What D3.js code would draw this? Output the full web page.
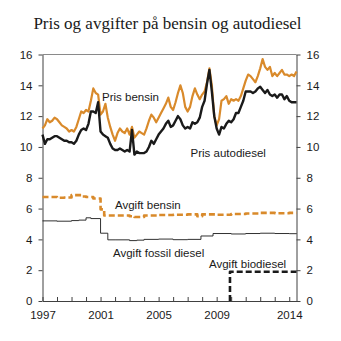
<!DOCTYPE html>
<html><head><meta charset="utf-8">
<script src="https://cdn.jsdelivr.net/npm/d3@7"></script>
<style>body{margin:0;background:#fff}svg{display:block}</style>
</head><body>
<script>
// months since Jan 1997, bi-monthly
const priceMonths = d3.range(0, 211, 2);
const prisBensin = [
 11.2,11.4,11.8,11.6,11.7,11.9,
 11.8,11.6,11.4,11.3,11.2,11.0,
 11.1,11.0,11.3,11.8,12.3,12.2,
 12.4,12.3,13.0,13.8,13.5,13.4,
 12.1,12.3,12.8,11.9,11.3,10.8,
 10.4,10.9,11.2,11.0,10.9,11.2,
 10.8,11.3,10.6,10.8,11.0,10.9,
 10.8,11.2,11.7,12.1,11.9,11.6,
 11.9,12.2,12.5,12.8,13.2,12.6,
 12.4,12.9,13.5,14.0,13.5,12.6,
 12.3,12.6,13.3,13.8,13.4,13.1,
 13.4,13.6,14.2,15.1,14.0,12.0,
 11.4,11.8,13.0,13.1,13.3,12.8,
 13.1,13.0,13.1,13.0,13.3,13.8,
 14.3,14.7,14.6,14.4,14.2,14.6,
 15.1,15.7,15.2,15.0,15.2,14.6,
 14.8,14.6,14.8,15.0,14.7,14.7,
 14.6,14.7,14.6,14.9];
const prisDiesel = [
 10.8,10.2,10.5,10.5,10.6,10.7,
 10.7,10.6,10.5,10.4,10.4,10.3,
 10.3,10.2,10.4,10.8,11.1,11.2,
 11.1,11.5,12.3,12.3,12.2,12.9,
 11.0,10.8,10.7,10.6,10.2,9.9,
 9.8,9.8,9.9,9.8,9.7,9.8,
 9.7,11.1,9.5,9.7,9.6,9.6,
 9.6,9.7,10.0,10.4,10.2,10.5,
 10.8,11.0,11.2,11.5,11.7,11.3,
 11.4,11.7,12.0,11.8,11.4,11.2,
 11.3,11.2,11.6,11.5,11.6,11.9,
 12.6,13.0,14.1,15.0,13.6,12.0,
 11.2,10.8,11.3,11.2,11.5,11.7,
 11.6,11.8,12.2,12.2,12.6,13.0,
 13.6,13.6,13.6,13.5,13.6,13.8,
 13.9,13.7,13.5,13.7,13.4,13.3,
 13.4,13.2,13.4,13.4,13.1,13.3,
 13.0,12.9,12.9,12.9];

const avgBensinMonths = [0,12,18,24,32,36,42,48,51,60,72,76,84,96,108,120,128,132,144,156,168,180,192,204,210];
const avgBensin =       [6.75,6.70,6.72,6.87,6.78,6.75,6.65,5.95,5.55,5.55,5.5,5.45,5.55,5.58,5.6,5.62,5.5,5.62,5.6,5.65,5.68,5.72,5.7,5.72,5.72];

const avgFossilMonths = [0,12,24,30,36,40,48,54,60,72,78,84,96,108,120,131,141,156,168,180,192,204,210];
const avgFossil =       [5.2,5.18,5.22,5.25,5.4,5.35,4.4,3.97,3.97,3.92,3.95,4.0,4.02,3.98,4.0,4.22,4.38,4.35,4.38,4.4,4.38,4.37,4.35];

const avgBioMonths = [155,155,210];
const avgBio =       [0,1.9,1.9];

const yTicks = [0,2,4,6,8,10,12,14,16];
const xLabelYears = [1997,2001,2005,2009,2014];

const W = 341, H = 341;
const svg = d3.select("body").append("svg").attr("width", W).attr("height", H);
const x = d3.scaleLinear().domain([0, 210]).range([42.5, 296.5]);
const y = d3.scaleLinear().domain([0, 16]).range([301, 54.5]);

const orange = "#d98a2b", black = "#1a1a1a", axisCol = "#404040";
const sans = "'Liberation Sans', Arial, sans-serif";

svg.append("text").attr("x", 167.5).attr("y", 29).attr("text-anchor", "middle")
  .attr("font-family", "'Liberation Serif', 'Times New Roman', serif").attr("font-size", 17)
  .attr("fill", "#1a1a1a").text("Pris og avgifter på bensin og autodiesel");

// top border
svg.append("line").attr("x1", x(0)).attr("x2", x(210)).attr("y1", y(16)).attr("y2", y(16))
  .attr("stroke", "#8a8a8a").attr("stroke-width", 1);

const yl = svg.append("g").attr("transform", `translate(${x(0)},0)`)
  .call(d3.axisLeft(y).tickValues(yTicks).tickSizeInner(4).tickSizeOuter(0).tickPadding(6));
const yr = svg.append("g").attr("transform", `translate(${x(210)},0)`)
  .call(d3.axisRight(y).tickValues(yTicks).tickSizeInner(4).tickSizeOuter(0).tickPadding(6));
const xTickVals = d3.range(0, 211, 12);
const xa = svg.append("g").attr("transform", `translate(0,${y(0)})`)
  .call(d3.axisBottom(x).tickValues(xTickVals).tickSizeInner(-4).tickSizeOuter(0).tickPadding(10)
    .tickFormat(m => { const yr = 1997 + m/12; return xLabelYears.includes(yr) ? String(yr) : ""; }));
[yl, yr, xa].forEach(g => {
  g.selectAll("path").attr("stroke", axisCol);
  g.selectAll("line").attr("stroke", axisCol);
  g.selectAll("text").attr("font-family", sans).attr("font-size", 11.5).attr("fill", "#1a1a1a");
});

function drawLine(months, vals, color, width, dash, curve) {
  const data = months.map((m, i) => [m, vals[i]]);
  const ln = d3.line().x(d => x(d[0])).y(d => y(d[1])).curve(curve || d3.curveLinear);
  const p = svg.append("path").datum(data).attr("d", ln).attr("fill", "none")
    .attr("stroke", color).attr("stroke-width", width).attr("stroke-linejoin", "round");
  if (dash) p.attr("stroke-dasharray", dash);
  return p;
}

drawLine(avgFossilMonths, avgFossil, black, 0.9, null, d3.curveStepAfter);
drawLine(avgBensinMonths, avgBensin, orange, 2.6, "6,3", d3.curveStepAfter);
drawLine(avgBioMonths, avgBio, black, 2.6, "6,3");
drawLine(priceMonths, prisBensin, orange, 2.2);
drawLine(priceMonths, prisDiesel, black, 2.4);

const labels = [
  ["Pris bensin", 102, 101],
  ["Pris autodiesel", 190.5, 157],
  ["Avgift bensin", 115, 208.5],
  ["Avgift fossil diesel", 113, 257],
  ["Avgift biodiesel", 209, 267.5]
];
svg.selectAll(".lbl").data(labels).enter().append("text")
  .attr("x", d => d[1]).attr("y", d => d[2]).attr("font-family", sans).attr("font-size", 11.5)
  .attr("fill", "#1a1a1a").text(d => d[0]);
</script>
</body></html>
